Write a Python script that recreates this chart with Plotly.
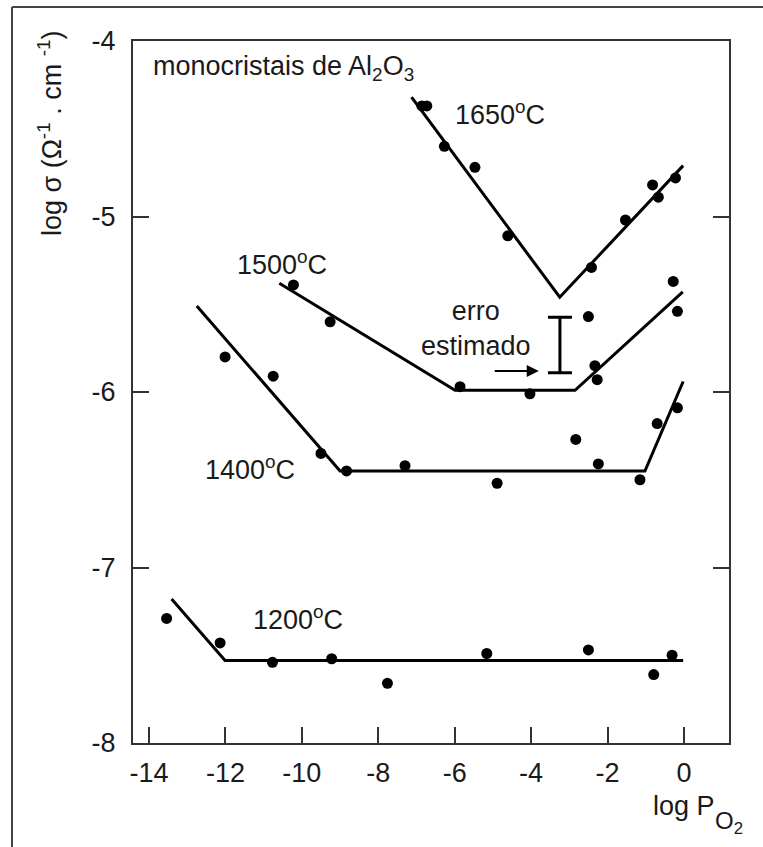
import plotly.graph_objects as go

# ---- data ----
# 1650 C
x1650 = [-6.86, -6.73, -6.27, -5.47, -4.61, -2.42, -1.53, -0.82, -0.67, -0.22]
y1650 = [-4.37, -4.37, -4.60, -4.72, -5.11, -5.29, -5.02, -4.82, -4.89, -4.78]
fit1650_x = [-7.13, -3.25, -0.02]
fit1650_y = [-4.32, -5.46, -4.71]

# 1500 C
x1500 = [-10.22, -9.26, -5.86, -4.03, -2.50, -2.33, -2.27, -0.28, -0.17]
y1500 = [-5.39, -5.60, -5.97, -6.01, -5.57, -5.85, -5.93, -5.37, -5.54]
fit1500_x = [-10.59, -5.99, -2.85, -0.03]
fit1500_y = [-5.38, -5.99, -5.99, -5.43]

# 1400 C
x1400 = [-12.01, -10.75, -9.50, -8.83, -7.30, -4.89, -2.83, -2.24, -1.15, -0.70, -0.17]
y1400 = [-5.80, -5.91, -6.35, -6.45, -6.42, -6.52, -6.27, -6.41, -6.50, -6.18, -6.09]
fit1400_x = [-12.75, -9.00, -1.02, -0.02]
fit1400_y = [-5.51, -6.45, -6.45, -5.94]

# 1200 C
x1200 = [-13.54, -12.14, -10.77, -9.22, -7.76, -5.16, -2.50, -0.79, -0.31]
y1200 = [-7.29, -7.43, -7.54, -7.52, -7.66, -7.49, -7.47, -7.61, -7.50]
fit1200_x = [-13.41, -12.01, -0.02]
fit1200_y = [-7.18, -7.53, -7.53]

# estimated error bar
err_x = [-3.245]
err_y = [-5.732]
err_half = [0.158]

x_ticks = [-14, -12, -10, -8, -6, -4, -2, 0]
y_ticks = [-4, -5, -6, -7, -8]

FONT = "Liberation Sans, Arial, sans-serif"
FS = 27
TXT = "#1a1a1a"

fig = go.Figure()

for fx, fy in [(fit1650_x, fit1650_y), (fit1500_x, fit1500_y),
               (fit1400_x, fit1400_y), (fit1200_x, fit1200_y)]:
    fig.add_trace(go.Scatter(x=fx, y=fy, mode="lines",
                             line=dict(color="black", width=3),
                             hoverinfo="skip", showlegend=False))

for px, py in [(x1650, y1650), (x1500, y1500), (x1400, y1400), (x1200, y1200)]:
    fig.add_trace(go.Scatter(x=px, y=py, mode="markers",
                             marker=dict(color="black", size=11),
                             showlegend=False))

fig.add_trace(go.Scatter(x=err_x, y=err_y, mode="markers",
                         marker=dict(size=1, color="rgba(0,0,0,0)"),
                         error_y=dict(type="data", array=err_half, visible=True,
                                      color="black", thickness=3, width=12),
                         showlegend=False, hoverinfo="skip"))

fig.update_xaxes(range=[-14.42, 1.18], tickvals=x_ticks,
                 ticktext=[str(v) for v in x_ticks],
                 ticks="inside", ticklen=16, tickwidth=2, tickcolor="#333",
                 showline=True, linecolor="#333", linewidth=2, mirror=True,
                 showgrid=False, zeroline=False,
                 tickfont=dict(family=FONT, size=FS, color=TXT),
                 ticklabelstandoff=5)
fig.update_yaxes(range=[-8, -4], tickvals=y_ticks,
                 ticktext=[str(v) for v in y_ticks],
                 ticks="inside", ticklen=16, tickwidth=2, tickcolor="#333",
                 showline=True, linecolor="#333", linewidth=2, mirror="ticks",
                 showgrid=False, zeroline=False,
                 tickfont=dict(family=FONT, size=FS, color=TXT),
                 ticklabelstandoff=10)

ann_font = dict(family=FONT, size=FS, color=TXT)
annotations = [
    dict(x=-13.95, y=-4.154, xref="x", yref="y", xanchor="left", yanchor="middle",
         text="monocristais de Al<sub>2</sub>O<sub>3</sub>", showarrow=False, font=ann_font),
    dict(x=-6.05, y=-4.41, xref="x", yref="y", xanchor="left", yanchor="middle",
         text="1650<sup>o</sup>C", showarrow=False, font=ann_font),
    dict(x=-11.75, y=-5.265, xref="x", yref="y", xanchor="left", yanchor="middle",
         text="1500<sup>o</sup>C", showarrow=False, font=ann_font),
    dict(x=-12.58, y=-6.433, xref="x", yref="y", xanchor="left", yanchor="middle",
         text="1400<sup>o</sup>C", showarrow=False, font=ann_font),
    dict(x=-11.32, y=-7.288, xref="x", yref="y", xanchor="left", yanchor="middle",
         text="1200<sup>o</sup>C", showarrow=False, font=ann_font),
    dict(x=-5.44, y=-5.64, xref="x", yref="y", xanchor="center", yanchor="middle",
         text="erro<br>estimado", showarrow=False, font=ann_font),
    # arrow
    dict(x=-3.80, y=-5.88, xref="x", yref="y", ax=-4.99, ay=-5.88,
         axref="x", ayref="y", text="", showarrow=True,
         arrowhead=2, arrowsize=1.2, arrowwidth=2, arrowcolor="black"),
    # axis titles
    dict(x=(50 - 133) / 596, y=(743 - 134) / 702, xref="paper", yref="paper",
         xanchor="center", yanchor="middle", textangle=-90,
         text="log σ (Ω<sup>-1</sup> . cm <sup>-1</sup>)", showarrow=False, font=ann_font),
    dict(x=(651 - 133) / 596, y=(743 - 806) / 702, xref="paper", yref="paper",
         xanchor="left", yanchor="middle",
         text="log P", showarrow=False, font=ann_font),
    dict(x=(713 - 133) / 596, y=(743 - 823) / 702, xref="paper", yref="paper",
         xanchor="left", yanchor="middle",
         text="O<sub>2</sub>", showarrow=False,
         font=dict(family=FONT, size=24, color=TXT)),
]

shapes = [
    dict(type="line", xref="paper", yref="paper",
         x0=(12 - 133) / 596, x1=(763 - 133) / 596,
         y0=(743 - 7) / 702, y1=(743 - 7) / 702,
         line=dict(color="#444", width=2)),
    dict(type="line", xref="paper", yref="paper",
         x0=(12 - 133) / 596, x1=(12 - 133) / 596,
         y0=(743 - 7) / 702, y1=(743 - 847) / 702,
         line=dict(color="#444", width=2)),
]

fig.update_layout(width=763, height=847,
                  margin=dict(l=133, r=34, t=41, b=104),
                  paper_bgcolor="white", plot_bgcolor="white",
                  annotations=annotations, shapes=shapes,
                  showlegend=False)

fig.write_html("out.html")
